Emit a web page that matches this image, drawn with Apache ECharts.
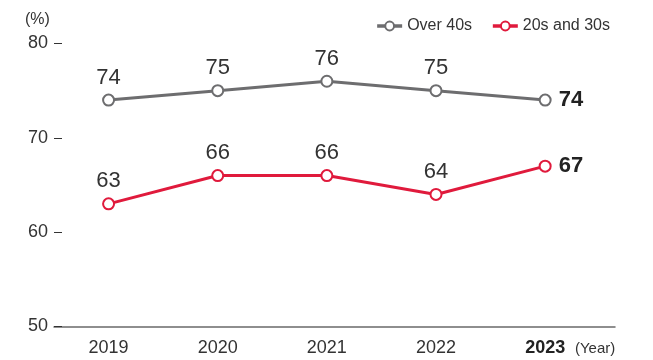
<!DOCTYPE html>
<html>
<head>
<meta charset="utf-8">
<script src="https://cdn.jsdelivr.net/npm/echarts@6/dist/echarts.min.js"></script>
<style>
html, body { margin: 0; padding: 0; background: #fff; }
#main { width: 653px; height: 360px; }
</style>
</head>
<body>
<div id="main"></div>
<script>
// data
const years = [2019, 2020, 2021, 2022, 2023];
const over40 = [74, 75, 76, 75, 74];
const young = [63, 66, 66, 64, 67];
const yTicks = [50, 60, 70, 80];

const font = '"Liberation Sans", Arial, Helvetica, sans-serif';
const grayC = '#6d6d6f';
const redC = '#e01a3c';

// last point gets bold label on the right
function toData(vals) {
  return vals.map(function (v, i) {
    const d = { value: [years[i], v] };
    if (i === vals.length - 1) {
      d.label = { position: 'right', distance: 7, fontWeight: 'bold', color: '#222' };
    }
    return d;
  });
}

const chart = echarts.init(document.getElementById('main'));
chart.setOption({
  animation: false,
  textStyle: { fontFamily: font },
  grid: { left: 54, right: 38, top: 43.5, bottom: 33.5 },
  legend: {
    right: 38,
    top: 13,
    itemWidth: 25,
    itemHeight: 11,
    itemGap: 19,
    lineStyle: { width: 3.5 },
    textStyle: { fontSize: 16, color: '#333', fontFamily: font },
    data: ['Over 40s', '20s and 30s']
  },
  xAxis: {
    type: 'value',
    min: 2018.5,
    max: 2023.64,
    interval: 0.5,
    splitLine: { show: false },
    axisTick: { show: false },
    axisLine: { show: true, lineStyle: { color: '#6a6a6a', width: 1.5 } },
    axisLabel: {
      margin: 13,
      fontSize: 18,
      color: '#333',
      fontFamily: font,
      formatter: function (v) {
        if (Math.abs(v - Math.round(v)) > 0.01 || years.indexOf(Math.round(v)) < 0) return '';
        const y = Math.round(v);
        return y === years[years.length - 1] ? '{b|' + y + '}' : String(y);
      },
      rich: { b: { fontSize: 18, fontWeight: 'bold', color: '#222', fontFamily: font } }
    }
  },
  yAxis: {
    type: 'value',
    min: yTicks[0],
    max: yTicks[yTicks.length - 1],
    interval: 10,
    splitLine: { show: false },
    axisLine: { show: false },
    axisTick: { show: true, inside: true, length: 8, lineStyle: { color: '#333', width: 1 } },
    axisLabel: { margin: 6, fontSize: 18, color: '#333', fontFamily: font }
  },
  graphic: [
    { type: 'text', left: 25, top: 12, style: { text: '(%)', fill: '#333', font: '16px ' + font } },
    { type: 'text', left: 575, top: 341, style: { text: '(Year)', fill: '#333', font: '15px ' + font } }
  ],
  series: [
    {
      name: 'Over 40s',
      type: 'line',
      data: toData(over40),
      symbol: 'circle',
      symbolSize: 11,
      lineStyle: { color: grayC, width: 3 },
      itemStyle: { color: '#fff', borderColor: grayC, borderWidth: 2 },
      label: { show: true, position: 'top', fontSize: 22, color: '#333', fontFamily: font,
        formatter: function (p) { return p.value[1]; } }
    },
    {
      name: '20s and 30s',
      type: 'line',
      data: toData(young),
      symbol: 'circle',
      symbolSize: 11,
      lineStyle: { color: redC, width: 3 },
      itemStyle: { color: '#fff', borderColor: redC, borderWidth: 2 },
      label: { show: true, position: 'top', fontSize: 22, color: '#333', fontFamily: font,
        formatter: function (p) { return p.value[1]; } }
    }
  ]
});
</script>
</body>
</html>
